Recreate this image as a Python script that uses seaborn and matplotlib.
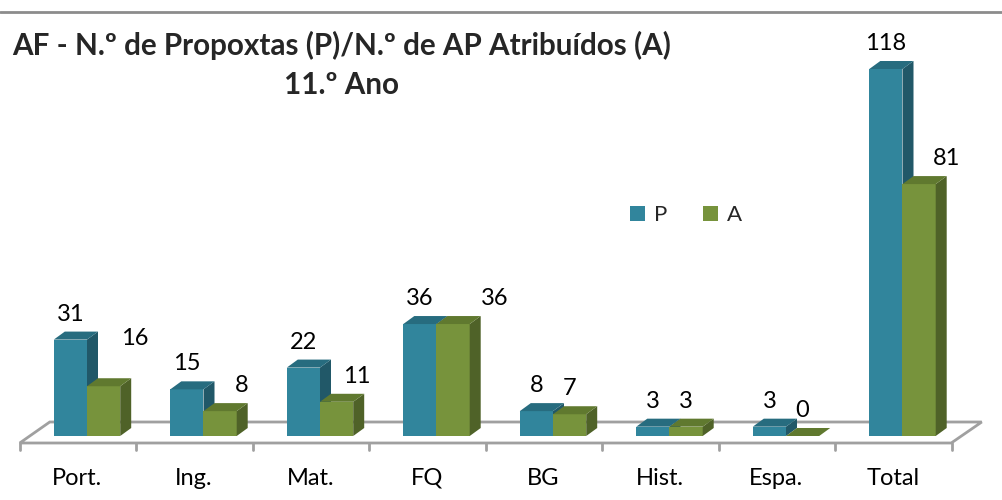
import matplotlib
matplotlib.use("Agg")
import matplotlib.pyplot as plt
import seaborn as sns
import pandas as pd
from matplotlib.patches import Polygon
from matplotlib.lines import Line2D

categories = ["Port.", "Ing.", "Mat.", "FQ", "BG", "Hist.", "Espa.", "Total"]
propostas = [31, 15, 22, 36, 8, 3, 3, 118]
atribuidos = [16, 8, 11, 36, 7, 3, 0, 81]
series = ["P", "A"]

front_colors = {"P": "#31859C", "A": "#77933C"}
top_colors = {"P": "#276C7F", "A": "#60792F"}
side_colors = {"P": "#215868", "A": "#4F6228"}

df = pd.DataFrame({
    "cat": categories * 2,
    "serie": ["P"] * len(categories) + ["A"] * len(categories),
    "valor": propostas + atribuidos,
})

sns.set_style("white")
plt.rcParams["font.family"] = ["Lato", "DejaVu Sans"]

W, H = 1003, 500
fig = plt.figure(figsize=(W / 100, H / 100), dpi=100)

# plane of the bars, in pixels
x_left, x_right = 28.75, 960.75
y_base, y_top = 436, 69
ax = fig.add_axes([x_left / W, 1 - y_base / H,
                   (x_right - x_left) / W, (y_base - y_top) / H])

sns.barplot(data=df, x="cat", y="valor", hue="serie", hue_order=series,
            palette=front_colors, saturation=1, width=0.57, linewidth=0, ax=ax)
ax.set_xlim(-0.5, len(categories) - 0.5)
ax.set_ylim(0, max(propostas))
ax.axis("off")

# pixels per data unit
ux = (x_right - x_left) / len(categories)
uy = (y_base - y_top) / max(propostas)


def shift(x, y, dxp, dyp):
    return (x + dxp / ux, y + dyp / uy)


# floor of the 3D box
fl = shift(-0.5, 0, -9, -7)
fr = shift(len(categories) - 0.5, 0, -9.5, -7)
br = shift(len(categories) - 0.5, 0, 21, 14)
bl = shift(-0.5, 0, 21, 14)
ax.add_patch(Polygon([fl, fr, br, bl], closed=True, fill=False,
                     edgecolor="#A0A0A0", linewidth=2, clip_on=False, zorder=1))
for i in range(len(categories) + 1):
    p0 = shift(i - 0.5, 0, -9, -7)
    p1 = shift(i - 0.5, 0, -9, -14)
    ax.plot([p0[0], p1[0]], [p0[1], p1[1]], color="#A0A0A0", lw=2,
            clip_on=False, zorder=1)

# category labels
for i, cat in enumerate(categories):
    ax.annotate(cat, (i, 0), xytext=(-9.5, -49), textcoords="offset pixels",
                ha="center", va="baseline", fontsize=17, color="black")

# 3D faces for each bar
depth_x, depth_y = 11, 8
for k, serie in enumerate(series):
    for bar in ax.containers[k]:
        bar.set_zorder(3 + k)
        x0 = bar.get_x()
        x1 = x0 + bar.get_width()
        h = bar.get_height()
        top = [(x0, h), (x1, h), shift(x1, h, depth_x, depth_y), shift(x0, h, depth_x, depth_y)]
        side = [(x1, 0), (x1, h), shift(x1, h, depth_x, depth_y), shift(x1, 0, depth_x, depth_y)]
        ax.add_patch(Polygon(side, closed=True, facecolor=side_colors[serie],
                             edgecolor="none", clip_on=False, zorder=3 + k))
        ax.add_patch(Polygon(top, closed=True, facecolor=top_colors[serie],
                             edgecolor="none", clip_on=False, zorder=3 + k))

# value labels
a_nudge_x = [31, 22, 20, 42, 0, 0, 0, 27]
a_nudge_y = [22, 0, 0, 0, 0, 0, 0, 0]
for bar, v in zip(ax.containers[0], propostas):
    ax.annotate(str(v), (bar.get_x() + bar.get_width() / 2, v),
                xytext=(0, 19), textcoords="offset pixels",
                ha="center", va="baseline", fontsize=17, color="black",
                annotation_clip=False, zorder=10)
for bar, v, nx, ny in zip(ax.containers[1], atribuidos, a_nudge_x, a_nudge_y):
    ax.annotate(str(v), (bar.get_x() + bar.get_width() / 2, v),
                xytext=(nx, 19 + ny), textcoords="offset pixels",
                ha="center", va="baseline", fontsize=17, color="black",
                annotation_clip=False, zorder=10)

sns.move_legend(ax, "center", bbox_to_anchor=(686 / W, 1 - 215 / H),
                bbox_transform=fig.transFigure, ncol=2, frameon=False,
                title=None, fontsize=16, handlelength=0.68, handleheight=0.68,
                handletextpad=0.4, columnspacing=1.6)

# chart frame line at the top
fig.add_artist(Line2D([0, 1], [1 - 12 / H] * 2, transform=fig.transFigure,
                      color="#8C8C8C", lw=2))

fig.text(342 / W, 1 - 55 / H, "AF - N.º de Propoxtas (P)/N.º de AP Atribuídos (A)",
         ha="center", va="baseline", fontsize=21.3, fontweight="bold")
fig.text(342 / W, 1 - 94 / H, "11.º Ano",
         ha="center", va="baseline", fontsize=21.3, fontweight="bold")

fig.savefig("out.png", dpi=100)
